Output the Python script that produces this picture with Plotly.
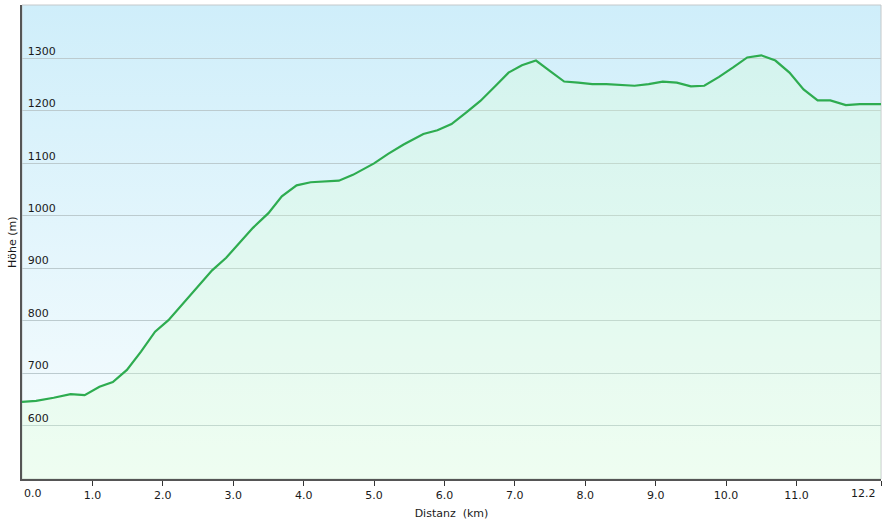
import base64
import plotly.graph_objects as go

distance_km = [0.0, 0.2, 0.45, 0.69, 0.89, 1.1, 1.29, 1.49, 1.69, 1.89, 2.08, 2.3, 2.5,
               2.7, 2.9, 3.08, 3.28, 3.5, 3.69, 3.9, 4.1, 4.5, 4.7, 5.0, 5.2, 5.42, 5.7,
               5.9, 6.1, 6.32, 6.51, 6.72, 6.91, 7.1, 7.3, 7.5, 7.7, 7.9, 8.1, 8.3, 8.5,
               8.7, 8.9, 9.1, 9.3, 9.5, 9.69, 9.9, 10.1, 10.3, 10.5, 10.7, 10.9, 11.1,
               11.3, 11.48, 11.7, 11.9, 12.2]
elevation_m = [645, 647, 653, 660, 658, 674, 683, 706, 741, 779, 801, 835, 866,
               896, 920, 948, 977, 1005, 1037, 1058, 1064, 1067, 1078, 1100, 1118, 1136, 1156,
               1163, 1175, 1198, 1219, 1247, 1273, 1287, 1296, 1276, 1256, 1254, 1251, 1251, 1249,
               1248, 1251, 1256, 1254, 1247, 1248, 1265, 1283, 1302, 1306, 1296, 1273, 1241,
               1220, 1220, 1211, 1213, 1213]

x_tickvals = [0, 1, 2, 3, 4, 5, 6, 7, 8, 9, 10, 11, 12.2]
x_ticktext = ["0.0", "1.0", "2.0", "3.0", "4.0", "5.0", "6.0", "7.0", "8.0", "9.0",
              "10.0", "11.0", "12.2"]
y_tickvals = [600, 700, 800, 900, 1000, 1100, 1200, 1300]

FONT = "DejaVu Sans, Verdana, sans-serif"
TXT = "#1a1a1a"

svg = ('<svg xmlns="http://www.w3.org/2000/svg" width="100" height="100" preserveAspectRatio="none">'
       '<defs><linearGradient id="g" x1="0" y1="0" x2="0" y2="1">'
       '<stop offset="0" stop-color="#cfeefa"/><stop offset="1" stop-color="#f8fdfe"/>'
       '</linearGradient></defs><rect width="100" height="100" fill="url(#g)"/></svg>')
bg_uri = "data:image/svg+xml;base64," + base64.b64encode(svg.encode()).decode()

# inner tick labels drawn by the axis; the two end labels are kept inside the plot edge
inner_text = [t if 0 < i < len(x_ticktext) - 1 else "" for i, t in enumerate(x_ticktext)]
end_labels = [
    dict(text=x_ticktext[0], x=x_tickvals[0], xanchor="left"),
    dict(text=x_ticktext[-1], x=x_tickvals[-1], xanchor="right"),
]

annotations = [dict(text="Höhe (m)", xref="paper", yref="paper", x=0, y=0.5,
                    xanchor="center", yanchor="middle", xshift=-10, textangle=-90,
                    showarrow=False, font=dict(size=11, color=TXT))]
for lab in end_labels:
    annotations.append(dict(text=lab["text"], xref="x", yref="paper", x=lab["x"], y=0,
                            xanchor=lab["xanchor"], yanchor="top", yshift=-6,
                            xshift=-3 if lab["xanchor"] == "right" else 0,
                            showarrow=False, font=dict(size=11, color=TXT)))

fig = go.Figure()
fig.add_trace(go.Scatter(
    x=distance_km, y=elevation_m, mode="lines",
    line=dict(color="#2eac50", width=2.2),
    fill="tozeroy", fillcolor="rgba(215,255,210,0.28)",
    hoverinfo="x+y", showlegend=False,
))

fig.update_layout(
    width=887, height=520,
    margin=dict(l=22, r=6, t=5, b=41),
    paper_bgcolor="white",
    plot_bgcolor="rgba(0,0,0,0)",
    font=dict(family=FONT, size=11, color=TXT),
    images=[dict(source=bg_uri, xref="paper", yref="paper", x=0, y=1, sizex=1, sizey=1,
                 xanchor="left", yanchor="top", sizing="stretch", layer="below")],
    shapes=[dict(type="rect", xref="paper", yref="paper", x0=0, y0=0, x1=1, y1=1,
                 line=dict(color="#c4c8ca", width=1), layer="below")],
    annotations=annotations,
    xaxis=dict(
        range=[0, 12.2], tickvals=x_tickvals, ticktext=inner_text,
        automargin=False,
        showgrid=False, zeroline=False,
        showline=True, linecolor="#555555", linewidth=2,
        ticks="outside", ticklen=5, tickwidth=1, tickcolor="#333333",
        tickfont=dict(size=11, color=TXT),
        title=dict(text="Distanz\u00a0 (km)", font=dict(size=11, color=TXT)),
    ),
    yaxis=dict(
        range=[498, 1402], tickvals=y_tickvals,
        automargin=False,
        showgrid=True, gridcolor="#bccbcf", gridwidth=1, zeroline=False,
        showline=True, linecolor="#555555", linewidth=2,
        ticks="", ticklabelposition="inside top", ticklabelstandoff=4,
        tickfont=dict(size=11, color=TXT),
    ),
)

fig.write_html("out.html", config={"displayModeBar": False},
               post_script="document.body.style.margin='0';")
